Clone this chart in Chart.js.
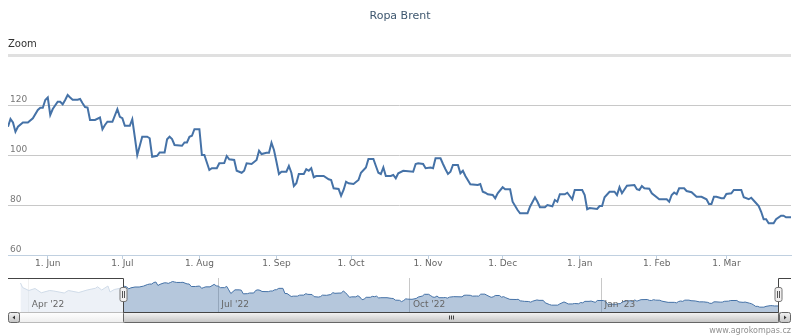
<!DOCTYPE html>
<html>
<head>
<meta charset="utf-8">
<script src="https://cdn.jsdelivr.net/npm/chart.js@4.4.0/dist/chart.umd.min.js"></script>
<style>
  body { margin: 0; background: #fff; }
  #wrap { position: relative; width: 800px; height: 336px; overflow: hidden; font-family: "DejaVu Sans", sans-serif; }
  #wrap canvas { position: absolute; left: 0; }
  #main { top: 0; }
  #nav { top: 270px; }
  #title { position: absolute; left: 0; top: 9px; width: 800px; text-align: center; font-size: 11px; color: #3E576F; }
  #zoom { position: absolute; left: 8px; top: 38px; font-size: 10px; color: #333; }
  #credits { position: absolute; right: 9px; top: 326px; font-size: 8px; color: #909090; }
</style>
</head>
<body>
<div id="wrap">
  <canvas id="main" width="800" height="280"></canvas>
  <canvas id="nav" width="800" height="56"></canvas>
  <div id="title">Ropa Brent</div>
  <div id="zoom">Zoom</div>
  <div id="credits">www.agrokompas.cz</div>
</div>
<script>
// Brent price, USD/bbl
const dates = [
  "2022-05-16","2022-05-17","2022-05-18","2022-05-19","2022-05-20","2022-05-22","2022-05-24","2022-05-26","2022-05-28","2022-05-29","2022-05-30","2022-05-31",
  "2022-06-01","2022-06-02","2022-06-03","2022-06-05","2022-06-06","2022-06-07","2022-06-08","2022-06-09","2022-06-10","2022-06-11","2022-06-13","2022-06-14","2022-06-15","2022-06-16","2022-06-17","2022-06-18","2022-06-20","2022-06-22","2022-06-23","2022-06-24","2022-06-25","2022-06-27","2022-06-29","2022-06-30",
  "2022-07-01","2022-07-02","2022-07-04","2022-07-05","2022-07-06","2022-07-07","2022-07-09","2022-07-11","2022-07-12","2022-07-13","2022-07-15","2022-07-16","2022-07-18","2022-07-19","2022-07-20","2022-07-21","2022-07-22","2022-07-25","2022-07-26","2022-07-27","2022-07-28","2022-07-29","2022-07-30",
  "2022-08-01","2022-08-02","2022-08-03","2022-08-05","2022-08-06","2022-08-08","2022-08-09","2022-08-11","2022-08-12","2022-08-13","2022-08-15","2022-08-16","2022-08-18","2022-08-19","2022-08-20","2022-08-22","2022-08-24","2022-08-25","2022-08-26","2022-08-28","2022-08-29","2022-08-30","2022-08-31",
  "2022-09-01","2022-09-02","2022-09-03","2022-09-05","2022-09-06","2022-09-07","2022-09-08","2022-09-09","2022-09-10","2022-09-12","2022-09-13","2022-09-14","2022-09-15","2022-09-16","2022-09-17","2022-09-20","2022-09-22","2022-09-23","2022-09-24","2022-09-26","2022-09-27","2022-09-28","2022-09-29","2022-09-30",
  "2022-10-02","2022-10-04","2022-10-05","2022-10-07","2022-10-08","2022-10-10","2022-10-11","2022-10-12","2022-10-13","2022-10-14","2022-10-15","2022-10-17","2022-10-18","2022-10-19","2022-10-20","2022-10-22","2022-10-26","2022-10-27","2022-10-28","2022-10-30","2022-10-31",
  "2022-11-02","2022-11-03","2022-11-04","2022-11-06","2022-11-07","2022-11-08","2022-11-09","2022-11-10","2022-11-11","2022-11-13","2022-11-14","2022-11-15","2022-11-16","2022-11-18","2022-11-21","2022-11-22","2022-11-23","2022-11-24","2022-11-25","2022-11-27","2022-11-28","2022-11-29",
  "2022-12-01","2022-12-02","2022-12-04","2022-12-05","2022-12-07","2022-12-08","2022-12-11","2022-12-12","2022-12-14","2022-12-15","2022-12-16","2022-12-18","2022-12-19","2022-12-21","2022-12-22","2022-12-23","2022-12-24","2022-12-26","2022-12-27","2022-12-28","2022-12-29","2022-12-30",
  "2023-01-02","2023-01-03","2023-01-04","2023-01-05","2023-01-08","2023-01-09","2023-01-10","2023-01-11","2023-01-13","2023-01-15","2023-01-16","2023-01-17","2023-01-18","2023-01-20","2023-01-23","2023-01-24","2023-01-25","2023-01-26","2023-01-27","2023-01-29","2023-01-30",
  "2023-02-02","2023-02-05","2023-02-06","2023-02-07","2023-02-08","2023-02-09","2023-02-10","2023-02-12","2023-02-13","2023-02-15","2023-02-17","2023-02-19","2023-02-21","2023-02-22","2023-02-23","2023-02-24","2023-02-25","2023-02-27","2023-02-28",
  "2023-03-01","2023-03-03","2023-03-04","2023-03-07","2023-03-08","2023-03-10","2023-03-11","2023-03-13","2023-03-14","2023-03-15","2023-03-16","2023-03-17","2023-03-18","2023-03-20","2023-03-21","2023-03-23","2023-03-24","2023-03-25","2023-03-27"
];
const prices = [
  111.3,114.4,113,109.3,111.3,113,113,114.7,118,118.9,118.9,122,
  123,116,118.4,121.3,121.3,120.3,122,124,123,122.1,122.1,122.4,120.7,119.2,119,114,114,115,110.3,112,113.3,113.3,118.3,115.3,
  114.7,111.7,111.7,114.3,107.3,100,107.3,107.3,106.7,99.3,99.7,101,101,106.3,107.3,106.4,104,103.7,105,105,107.3,107.7,110.3,
  110.3,100,100,94,94.7,94.7,96.7,96.8,99.6,98.3,98,93.7,92.9,93.7,96.7,96.4,98,101.7,100.4,100.9,100.9,104.9,102,
  97.3,92.4,93.3,93.3,95.6,92.9,87.6,88.7,92.4,92.4,94.3,93.7,94.7,91.1,91.6,91.6,90.3,90,86.7,86.4,83.7,86,89.3,88.7,
  88.4,90,92.9,95,98.4,98.4,95.6,92.9,92.4,95,91.6,91.6,92,90.7,92.7,93.7,93.3,96.4,96.7,96.4,94.7,
  95,94.7,98.7,98.7,96.4,94.3,92.4,93.3,96,96,92.7,93.7,91.6,88.3,88,88.4,85.3,84.9,84.3,84,82.7,84.7,
  87.1,86.3,86.3,81.3,78,76.7,76.7,79.3,83.1,81.3,79.1,79.1,80,79.5,82,81.3,84.3,84.3,84.9,83.6,82.3,86,
  86,84,78.3,78.8,78.4,79.6,79.6,83.1,85.3,85.3,84,87.1,84.7,87.7,88,86.3,86,87.6,86.7,86.5,84.7,
  82.3,82.3,81.3,84,85,84.3,86.7,86.7,85.6,85.1,83.3,83.3,82.3,80.4,80.4,83.3,83.3,82.7,82.7,
  84.4,84.7,86,86,83.1,82.3,82.9,80.7,79.6,77.3,74.3,74.3,72.7,72.7,74.3,75.7,75.7,75.1,75.1
];

// older part, only visible in the navigator
const earlyDates = ["2022-03-28","2022-03-29","2022-04-01","2022-04-04","2022-04-07","2022-04-11","2022-04-13","2022-04-18","2022-04-20","2022-04-25","2022-04-29","2022-05-03","2022-05-04","2022-05-06","2022-05-09","2022-05-10","2022-05-12"];
const earlyPrices = [121,112,106,110,101.5,106,105,101,106,102,107,110.5,113.5,107,115,103,108];

const monthTicks = ["2022-06-01","2022-07-01","2022-08-01","2022-09-01","2022-10-01","2022-11-01","2022-12-01","2023-01-01","2023-02-01","2023-03-01"];
const monthLabels = ["1. Jun","1. Jul","1. Aug","1. Sep","1. Oct","1. Nov","1. Dec","1. Jan","1. Feb","1. Mar"];
const navTicks = ["2022-04-01","2022-07-01","2022-10-01","2023-01-01"];
const navLabels = ["Apr '22","Jul '22","Oct '22","Jan '23"];
const navRange = ["2022-03-22","2023-04-02"];

const LINE = "#4572A7";
const FONT = "DejaVu Sans";

function dayNum(s) {
  return Date.UTC(+s.slice(0, 4), +s.slice(5, 7) - 1, +s.slice(8, 10)) / 864e5;
}

function toPoints(ds, vs) {
  return ds.map((d, i) => ({ x: dayNum(d), y: vs[i] }));
}

const mainMin = dayNum(dates[0]);
const mainMax = dayNum(dates[dates.length - 1]);

new Chart(document.getElementById("main"), {
  type: "line",
  data: {
    datasets: [{
      data: toPoints(dates, prices),
      borderColor: LINE,
      borderWidth: 2,
      pointRadius: 0,
      tension: 0,
      fill: false,
    }],
  },
  options: {
    responsive: false,
    animation: false,
    layout: { padding: { top: 55, left: 4, right: 9, bottom: 12 } },
    plugins: { legend: { display: false }, tooltip: { enabled: false } },
    scales: {
      x: {
        type: "linear",
        min: mainMin,
        max: mainMax,
        afterBuildTicks: (s) => { s.ticks = monthTicks.map((d) => ({ value: dayNum(d) })); },
        ticks: {
          autoSkip: false,
          maxRotation: 0,
          padding: 0,
          color: "#666",
          font: { family: FONT, size: 9, lineHeight: 1 },
          callback: (v, i) => monthLabels[i],
        },
        grid: { drawOnChartArea: false, tickLength: 4, color: "#C0D0E0" },
        border: { color: "#C0D0E0" },
      },
      y: {
        min: 60,
        max: 140,
        ticks: {
          stepSize: 20,
          mirror: true,
          padding: 2,
          labelOffset: -5,
          color: "#777",
          font: { family: FONT, size: 9 },
          callback: (v) => (v === 140 ? "" : v),
        },
        grid: {
          drawTicks: false,
          color: (c) => (c.tick && c.tick.value === 140 ? "#E0E0E0" : "#C8C8C8"),
          lineWidth: (c) => (c.tick && c.tick.value === 140 ? 3 : 1),
        },
        border: { display: false },
      },
    },
  },
});

// mask, outline, handles, labels and scrollbar of the navigator
const navigatorPlugin = {
  id: "navigator",
  afterDraw(chart) {
    const { ctx, chartArea: a, scales: { x } } = chart;
    const x1 = Math.round(x.getPixelForValue(mainMin)) + 0.5;
    const x2 = Math.round(x.getPixelForValue(mainMax)) - 0.5;
    const top = Math.round(a.top) + 0.5;
    const bottom = Math.round(a.bottom) + 0.5;
    ctx.save();

    ctx.fillStyle = "rgba(255,255,255,0.75)";
    ctx.fillRect(a.left, a.top, x1 - a.left, a.bottom - a.top);
    ctx.fillRect(x2, a.top, a.right - x2, a.bottom - a.top);

    ctx.font = "9px '" + FONT + "'";
    ctx.fillStyle = "#666";
    ctx.textBaseline = "middle";
    x.ticks.forEach((t, i) => ctx.fillText(navLabels[i], x.getPixelForValue(t.value) + 3, a.top + 26.5));

    // scrollbar
    const sTop = bottom, sH = 10;
    const grad = (c1, c2) => {
      const g = ctx.createLinearGradient(0, sTop, 0, sTop + sH);
      g.addColorStop(0, c1);
      g.addColorStop(1, c2);
      return g;
    };
    ctx.lineWidth = 1;
    ctx.fillStyle = grad("#FFFFFF", "#EEEEEE");
    ctx.strokeStyle = "#BBBBBB";
    ctx.beginPath();
    ctx.rect(a.left + 11.5, sTop, a.right - a.left - 23, sH);
    ctx.fill();
    ctx.stroke();

    ctx.fillStyle = grad("#F4F4F4", "#C4C4C4");
    ctx.strokeStyle = "#666";
    ctx.beginPath();
    ctx.roundRect(x1, sTop, x2 - x1, sH, 1);
    ctx.fill();
    ctx.stroke();
    const cx = Math.round((x1 + x2) / 2) + 0.5;
    ctx.strokeStyle = "#444";
    ctx.beginPath();
    [-2, 0, 2].forEach((o) => { ctx.moveTo(cx + o, sTop + 3); ctx.lineTo(cx + o, sTop + 7); });
    ctx.stroke();

    [[a.left + 0.5, -1], [a.right - 11.5, 1]].forEach(([bx, dir]) => {
      ctx.fillStyle = grad("#F4F4F4", "#C4C4C4");
      ctx.strokeStyle = "#666";
      ctx.beginPath();
      ctx.roundRect(bx, sTop, 11, sH, 2);
      ctx.fill();
      ctx.stroke();
      const mx = bx + 5.5, my = sTop + 5;
      ctx.fillStyle = "#333";
      ctx.beginPath();
      ctx.moveTo(mx + dir * 1.5, my);
      ctx.lineTo(mx - dir * 1, my - 2);
      ctx.lineTo(mx - dir * 1, my + 2);
      ctx.closePath();
      ctx.fill();
    });

    // outline around the selected range
    ctx.strokeStyle = "#444";
    ctx.beginPath();
    ctx.moveTo(a.left, top);
    ctx.lineTo(x1, top);
    ctx.lineTo(x1, bottom);
    ctx.lineTo(x2, bottom);
    ctx.lineTo(x2, top);
    ctx.lineTo(a.right, top);
    ctx.stroke();

    const cy = Math.round((a.top + a.bottom) / 2);
    [x1, x2].forEach((hx) => {
      ctx.fillStyle = "#F2F0F0";
      ctx.strokeStyle = "#777";
      ctx.beginPath();
      ctx.roundRect(hx - 3.5, cy - 7.5, 7, 14, 2);
      ctx.fill();
      ctx.stroke();
      ctx.strokeStyle = "#555";
      ctx.beginPath();
      ctx.moveTo(hx - 1, cy - 4); ctx.lineTo(hx - 1, cy + 3);
      ctx.moveTo(hx + 1, cy - 4); ctx.lineTo(hx + 1, cy + 3);
      ctx.stroke();
    });
    ctx.restore();
  },
};

new Chart(document.getElementById("nav"), {
  type: "line",
  data: {
    datasets: [{
      data: toPoints(earlyDates, earlyPrices).concat(toPoints(dates, prices)),
      borderColor: LINE,
      borderWidth: 1,
      backgroundColor: "rgba(69,114,167,0.4)",
      fill: "start",
      pointRadius: 0,
      tension: 0,
    }],
  },
  options: {
    responsive: false,
    animation: false,
    layout: { padding: { top: 8, left: 8, right: 9, bottom: 14 } },
    plugins: { legend: { display: false }, tooltip: { enabled: false } },
    scales: {
      x: {
        type: "linear",
        min: dayNum(navRange[0]),
        max: dayNum(navRange[1]),
        afterBuildTicks: (s) => { s.ticks = navTicks.map((d) => ({ value: dayNum(d) })); },
        ticks: { display: false },
        grid: { drawTicks: false, color: "#C8C8C8" },
        border: { display: false },
      },
      y: { display: false, min: 63, max: 131 },
    },
  },
  plugins: [navigatorPlugin],
});
</script>
</body>
</html>
